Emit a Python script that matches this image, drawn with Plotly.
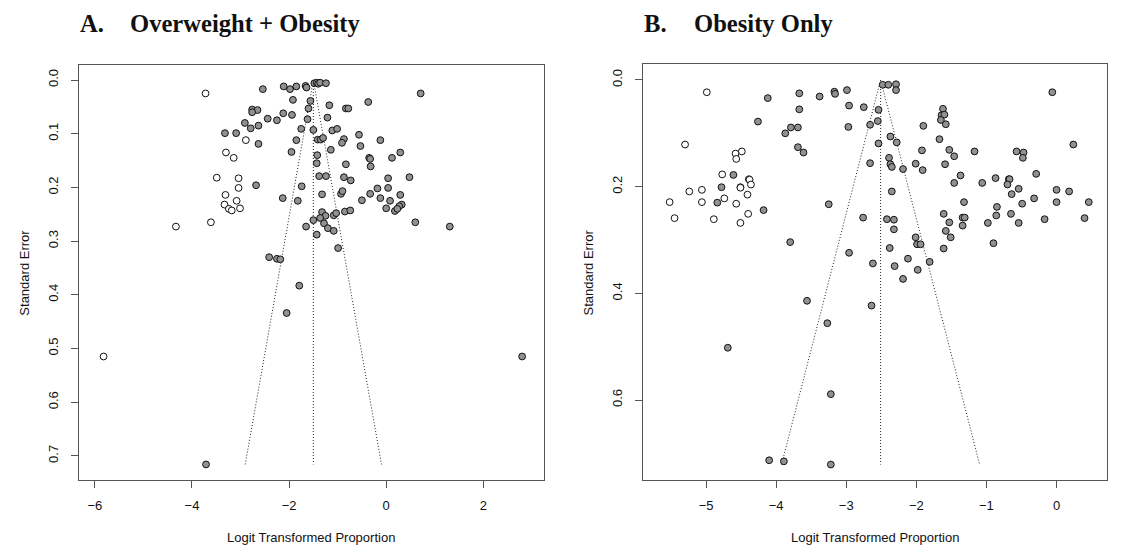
"""
Funnel plots (trim-and-fill) for two prevalence meta-analyses:
A. overweight + obesity, B. obesity only
"""
import plotly.graph_objects as go

# ---- panel A: overweight + obesity ----
a_obs_x = [-2.54, -2.11, -1.98, -1.85, -1.66, -1.64, -1.48, -1.43, -1.40, -1.36, -1.24, 0.71,
           -1.92, -1.56, -1.60, -1.17, -0.83, -0.78, -0.37, -2.76, -2.65, -2.76, -2.12, -1.94,
           -2.44, -2.25, -1.62, -1.21, -2.91, -2.79, -2.63, -1.75, -1.50, -1.11, -1.01, -3.32,
           -3.09, -0.56, -0.87, -1.85, -1.41, -1.35, -1.30, -0.12, -0.91, -2.63, -0.53, -1.95,
           -1.14, 0.29, -1.42, -0.35, -0.33, 0.12, -1.43, -0.83, -0.32, -1.38, -1.24, -0.87,
           -0.73, 0.04, 0.48, -2.68, -1.74, -0.18, 0.04, -1.32, -0.93, -0.90, -0.33, 0.29,
           -2.13, -1.82, -0.50, -0.12, 0.08, 0.32, 0.27, 0.00, 0.18, 0.23, -1.32, -1.25,
           -1.08, -1.03, -0.85, -0.74, -1.50, -1.36, -1.28, -1.20, -1.08, -1.65, -1.43, 0.60,
           1.31, -0.99, -2.41, -2.25, -2.18, -1.79, -2.05, 2.80, -3.71]
a_obs_se = [0.017, 0.012, 0.017, 0.012, 0.011, 0.014, 0.006, 0.005, 0.007, 0.005, 0.006, 0.025,
            0.037, 0.039, 0.053, 0.047, 0.053, 0.053, 0.041, 0.055, 0.056, 0.060, 0.062, 0.065,
            0.072, 0.075, 0.073, 0.070, 0.080, 0.090, 0.085, 0.091, 0.093, 0.094, 0.091, 0.099,
            0.099, 0.102, 0.110, 0.112, 0.111, 0.111, 0.108, 0.112, 0.117, 0.119, 0.123, 0.134,
            0.130, 0.135, 0.140, 0.145, 0.147, 0.145, 0.155, 0.157, 0.161, 0.179, 0.179, 0.181,
            0.187, 0.183, 0.181, 0.196, 0.198, 0.202, 0.201, 0.213, 0.212, 0.207, 0.212, 0.214,
            0.220, 0.225, 0.224, 0.220, 0.225, 0.232, 0.235, 0.239, 0.244, 0.240, 0.246, 0.253,
            0.252, 0.248, 0.245, 0.243, 0.261, 0.257, 0.267, 0.276, 0.281, 0.273, 0.288, 0.265,
            0.273, 0.313, 0.330, 0.333, 0.334, 0.383, 0.434, 0.515, 0.716]
# imputed (trim-and-fill) studies
a_fill_x = [-3.72, -4.33, -3.61, -3.49, -3.30, -3.14, -2.89, -3.04, -3.04, -3.31, -3.08, -3.33,
            -3.24, -3.18, -3.01, -5.82]
a_fill_se = [0.025, 0.273, 0.265, 0.182, 0.135, 0.145, 0.112, 0.183, 0.201, 0.214, 0.225, 0.232,
             0.240, 0.243, 0.239, 0.515]
a_pooled = -1.50

# ---- panel B: obesity only ----
b_obs_x = [-4.61, -4.78, -4.84, -4.18, -4.51,
           -4.12, -4.26, -3.67, -3.67, -3.38, -3.17, -3.16, -2.99, -2.96, -2.75, -2.97, -3.87,
           -3.79, -3.69, -3.69, -3.61, -2.54, -2.55, -2.66, -2.48, -2.40, -2.29, -2.29, -2.37,
           -2.28, -2.54, -2.66, -2.39, -2.37, -2.35, -2.19, -2.35, -3.25, -2.76, -2.42, -2.32,
           -2.32, -2.01, -1.99, -1.94, -2.38, -2.96, -2.62, -2.31, -2.12, -1.98, -1.81, -2.19,
           -1.61, -3.80, -0.90, -3.56, -2.64,
           -1.62, -1.64, -1.60, -1.65, -1.58, -1.90, -1.67, -1.92, -1.53, -1.46, -2.01, -1.91,
           -1.59, -1.17, -1.37, -1.46, -1.06, -0.87, -0.68, -0.67, -0.70, -0.54, -0.64, -0.57,
           -0.47, -0.48, -0.29, -0.06, 0.24, 0.00, 0.18, -0.32, -0.49, 0.00, 0.46, -0.85,
           -0.65, -0.86, -0.98, -0.54, -0.17, 0.40, -1.32, -1.61, -1.53, -1.34, -1.31, -1.34,
           -1.58, -1.51,
           -3.27, -4.69, -3.22, -4.10, -3.89, -3.22]
b_obs_se = [0.178, 0.201, 0.230, 0.244, 0.201,
            0.034, 0.078, 0.025, 0.055, 0.031, 0.022, 0.026, 0.019, 0.048, 0.051, 0.088, 0.100,
            0.089, 0.089, 0.126, 0.136, 0.056, 0.077, 0.084, 0.009, 0.009, 0.008, 0.019, 0.106,
            0.117, 0.119, 0.156, 0.146, 0.158, 0.163, 0.167, 0.209, 0.233, 0.258, 0.261, 0.262,
            0.280, 0.295, 0.308, 0.308, 0.315, 0.324, 0.344, 0.349, 0.335, 0.356, 0.341, 0.373,
            0.316, 0.304, 0.306, 0.414, 0.423,
            0.054, 0.066, 0.065, 0.075, 0.083, 0.086, 0.111, 0.132, 0.131, 0.143, 0.157, 0.169,
            0.158, 0.134, 0.179, 0.193, 0.193, 0.184, 0.186, 0.186, 0.196, 0.204, 0.214, 0.134,
            0.136, 0.146, 0.176, 0.023, 0.121, 0.206, 0.209, 0.222, 0.232, 0.229, 0.229, 0.238,
            0.251, 0.254, 0.268, 0.268, 0.261, 0.259, 0.229, 0.251, 0.267, 0.258, 0.258, 0.273,
            0.283, 0.295,
            0.456, 0.502, 0.589, 0.713, 0.715, 0.721]
b_fill_x = [-4.99, -5.30, -4.58, -4.49, -4.57, -4.77, -4.39, -4.38, -4.36, -4.51, -5.24, -5.06,
            -4.74, -4.41, -5.52, -5.06, -4.57, -5.45, -4.89, -4.51, -4.40]
b_fill_se = [0.023, 0.121, 0.138, 0.134, 0.148, 0.177, 0.186, 0.187, 0.196, 0.202, 0.209, 0.206,
             0.222, 0.215, 0.229, 0.229, 0.232, 0.259, 0.261, 0.268, 0.251]
b_pooled = -2.51

W, H = 1136, 559
PAGE_PAD = 8  # browser's default body margin, layout below is in page pixels
FONT = "Liberation Sans, Arial, sans-serif"
FRAME = "#555555"


def funnel_traces(center, se_all, xaxis, yaxis):
    """pseudo 95% limits + vertical line at the pooled estimate"""
    se_max = max(se_all)
    lo = center - 1.96 * se_max
    hi = center + 1.96 * se_max
    line = dict(color="#222222", width=1, dash="1px,2px")
    return [
        go.Scatter(x=[lo, center, hi], y=[se_max, 0, se_max], mode="lines", line=line,
                   xaxis=xaxis, yaxis=yaxis, hoverinfo="skip", showlegend=False),
        go.Scatter(x=[center, center], y=[0, se_max], mode="lines", line=line,
                   xaxis=xaxis, yaxis=yaxis, hoverinfo="skip", showlegend=False),
    ]


def points(x, se, fill, xaxis, yaxis):
    return go.Scatter(x=x, y=se, mode="markers", xaxis=xaxis, yaxis=yaxis, showlegend=False,
                      marker=dict(size=6.8, color=fill, line=dict(color="#111111", width=1)))


fig = go.Figure()
for tr in funnel_traces(a_pooled, a_obs_se + a_fill_se, "x", "y"):
    fig.add_trace(tr)
fig.add_trace(points(a_obs_x, a_obs_se, "#919191", "x", "y"))
fig.add_trace(points(a_fill_x, a_fill_se, "white", "x", "y"))

for tr in funnel_traces(b_pooled, b_obs_se + b_fill_se, "x2", "y2"):
    fig.add_trace(tr)
fig.add_trace(points(b_obs_x, b_obs_se, "#919191", "x2", "y2"))
fig.add_trace(points(b_fill_x, b_fill_se, "white", "x2", "y2"))

# plot boxes in page pixels (left, right, top, bottom)
box_a = (79.3, 543.5, 64.7, 480)
box_b = (643.3, 1106.7, 64.3, 480)


def px(x):
    return (x - PAGE_PAD) / W


def py(y):
    return 1 - (y - PAGE_PAD) / H


def dom_x(b):
    return [px(b[0]), px(b[1])]


def dom_y(b):
    return [py(b[3]), py(b[2])]


axis_common = dict(showline=True, mirror=True, linecolor=FRAME, linewidth=1,
                   ticks="outside", ticklen=7, tickcolor=FRAME, tickwidth=1,
                   showgrid=False, zeroline=False,
                   tickfont=dict(family=FONT, size=13, color="#111111"))

fig.update_layout(
    width=W, height=H,
    margin=dict(l=0, r=0, t=0, b=0),
    paper_bgcolor="white", plot_bgcolor="white",
    xaxis=dict(domain=dom_x(box_a), range=[-6.32, 3.24], tickvals=[-6, -4, -2, 0, 2],
               ticklabelstandoff=6, anchor="y", **axis_common),
    yaxis=dict(domain=dom_y(box_a), range=[0.745, -0.0285],
               tickvals=[0, 0.1, 0.2, 0.3, 0.4, 0.5, 0.6, 0.7], tickformat=".1f",
               tickangle=-90, ticklabelstandoff=8, anchor="x", **axis_common),
    xaxis2=dict(domain=dom_x(box_b), range=[-5.896, 0.716], tickvals=[-5, -4, -3, -2, -1, 0],
                ticklabelstandoff=6, anchor="y2", **axis_common),
    yaxis2=dict(domain=dom_y(box_b), range=[0.75, -0.0294], tickvals=[0, 0.2, 0.4, 0.6],
                tickformat=".1f", tickangle=-90, ticklabelstandoff=8, anchor="x2",
                **axis_common),
)

title_font = dict(family="Liberation Serif, Times New Roman, serif", size=24.6, color="#111111")
label_font = dict(family=FONT, size=13, color="#111111")

annotations = [
    dict(text="<b>A.</b>", x=px(77.5), y=py(23.5), xanchor="left", font=title_font),
    dict(text="<b>Overweight + Obesity</b>", x=px(127.5), y=py(23.5), xanchor="left",
         font=title_font),
    dict(text="<b>B.</b>", x=px(642), y=py(23.5), xanchor="left", font=title_font),
    dict(text="<b>Obesity Only</b>", x=px(692), y=py(23.5), xanchor="left", font=title_font),
]
for b in (box_a, box_b):
    annotations.append(dict(text="Logit Transformed Proportion", x=px((b[0] + b[1]) / 2),
                            y=py(537.5), xanchor="center", font=label_font))
    annotations.append(dict(text="Standard Error", x=px(b[0] - 55),
                            y=py((b[2] + b[3]) / 2), textangle=-90, xanchor="center",
                            font=label_font))
for a in annotations:
    a.update(xref="paper", yref="paper", yanchor="middle", showarrow=False)
fig.update_layout(annotations=annotations)

fig.write_html("out.html")
